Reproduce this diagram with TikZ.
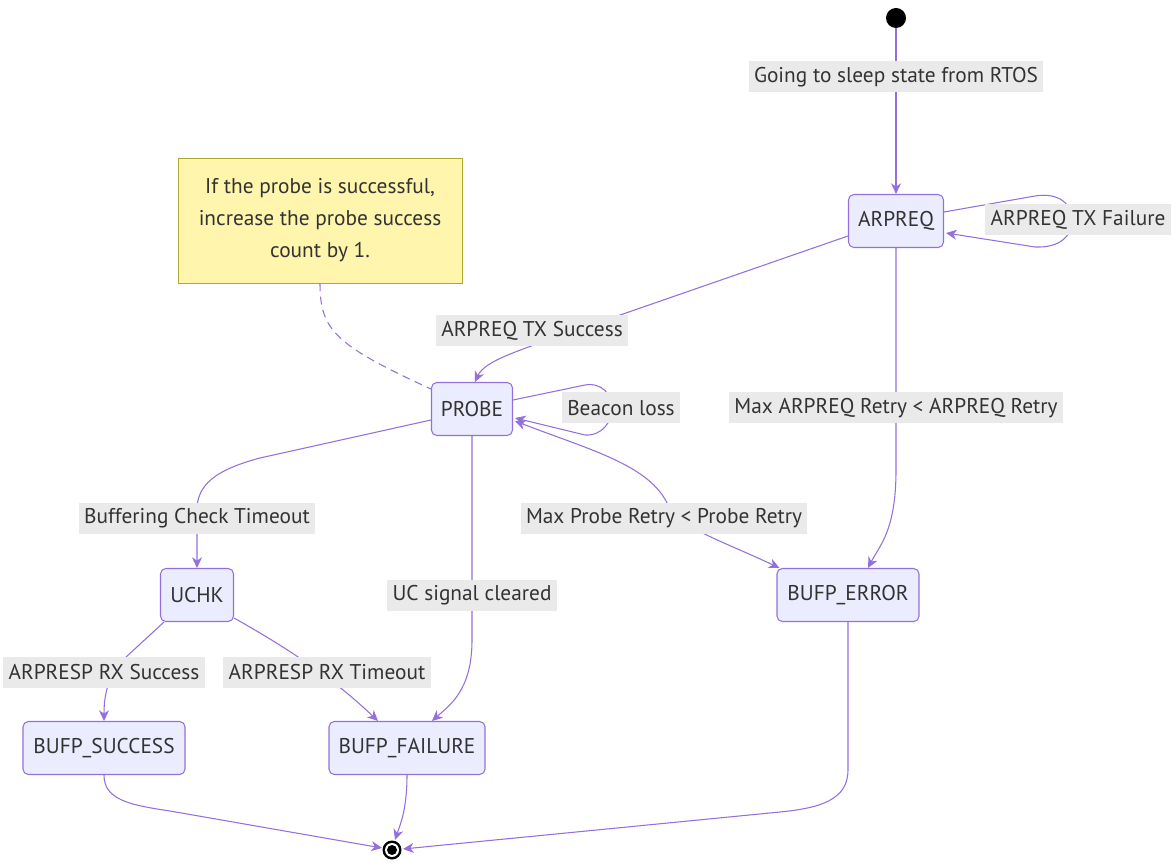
\documentclass[tikz,border=0pt]{standalone}
\usepackage{fontspec}
\setmainfont{PT Sans}
\usetikzlibrary{arrows.meta,calc}
\definecolor{edgec}{HTML}{9370DB}
\definecolor{nodefill}{HTML}{ECECFF}
\definecolor{txt}{HTML}{333333}
\definecolor{lblbg}{HTML}{EAEAEA}
\definecolor{notefill}{HTML}{FFF5AD}
\definecolor{notedraw}{HTML}{AAAA33}
\tikzset{
  state/.style={draw=edgec, fill=nodefill, rounded corners=4pt, line width=0.8pt,
    minimum height=53*0.75pt, inner xsep=0pt, text=txt, font=\fontsize{16}{19}\selectfont},
  lbl/.style={fill=lblbg, inner xsep=4pt, inner ysep=0pt, minimum height=31*0.75pt, text=txt, font=\fontsize{16}{19}\selectfont},
  arrowtip/.tip={Stealth[length=8pt,width=7.5pt,inset=2.5pt]},
  edge/.style={draw=edgec, line width=0.8pt, -arrowtip},
  notebox/.style={draw=notedraw, fill=notefill, line width=0.6pt, text=txt, align=center,
    font=\fontsize{16}{24}\selectfont, minimum width=284*0.75pt, minimum height=125*0.75pt},
}
\begin{document}
\begin{tikzpicture}[x=0.75pt,y=-0.75pt]
\useasboundingbox (0,0) rectangle (1174,862);
% nodes
\fill (896,18) circle (10);
\coordinate (start) at (896,28);
\node[state, minimum width=95*0.75pt] (arpreq) at (896,221) {ARPREQ};
\node[state, minimum width=81*0.75pt] (probe) at (472,409) {PROBE};
\node[state, minimum width=73*0.75pt] (uchk) at (197,595) {UCHK};
\node[state, minimum width=162*0.75pt] (bsucc) at (104,748) {BUFP\_SUCCESS};
\node[state, minimum width=156*0.75pt] (bfail) at (407,748) {BUFP\_FAILURE};
\node[state, minimum width=142*0.75pt] (berr) at (848,595) {BUFP\_ERROR};
\node[notebox] (note) at (320,220.5) {If the probe is successful,\\increase the probe success\\count by 1.};
\fill (392,850) circle (9.5);
\fill[white] (392,850) circle (7);
\fill (392,850) circle (5);
\coordinate (end) at (392,850);
% edges
\draw[edge] (start) -- (arpreq.north);
\draw[edge] ($(arpreq.east)+(0,-9)$) -- (1035,196) .. controls (1060,192) and (1072,205) .. (1072,220)
   .. controls (1072,236) and (1060,248) .. (1035,247) -- ($(arpreq.east)+(2,12)$);
\draw[edge] ($(arpreq.west)+(0,15)$) -- (600,322) .. controls (520,350) and (485,360) .. ($(probe.north)+(3,0)$);
\draw[edge] ($(probe.east)+(0,-9)$) -- (585,385) .. controls (602,382) and (612,395) .. (612,408)
   .. controls (612,422) and (602,436) .. (585,435) -- ($(probe.east)+(2,9)$);
\draw[edge, arrowtip-arrowtip]
   ($(probe.east)+(2,12)$) .. controls (590,450) and (650,465) .. (668,505)
   .. controls (680,528) and (720,540) .. ($(berr.north west)+(3,0)$);
\draw[edge] (arpreq.south) -- (896,470) .. controls (896,530) and (880,545) .. ($(berr.north)+(20,0)$);
\draw[edge] ($(probe.west)+(0,11)$) -- (260,458) .. controls (215,470) and (197,485) .. (197,510) -- (uchk.north);
\draw[edge] (probe.south) -- (472,640) .. controls (472,690) and (450,705) .. ($(bfail.north)+(25,0)$);
\draw[edge] ($(uchk.south west)+(4,0)$) -- (125,658) .. controls (110,675) and (104,690) .. (bsucc.north);
\draw[edge] ($(uchk.south east)+(0,-4)$) .. controls (300,655) and (340,685) .. ($(bfail.north)+(-29,0)$);
\draw[edge] (bsucc.south) .. controls (104,800) and (130,805) .. (170,811) -- ($(end)+(-10,-2)$);
\draw[edge] (bfail.south) .. controls (407,810) and (400,825) .. ($(end)+(3,-10)$);
\draw[edge] (berr.south) -- (848,770) .. controls (848,800) and (820,808) .. (780,812) -- ($(end)+(11,-1)$);
\draw[draw=edgec, line width=0.8pt, dash pattern=on 6pt off 4pt] (note.south) .. controls (320,330) and (335,345) .. ($(probe.west)+(0,-20)$);
% labels
\node[lbl] (l1) at (896,77) {Going to sleep state from RTOS};
\node[lbl] (l2) at (1078,220) {ARPREQ TX Failure};
\node[lbl] (l3) at (532,331) {ARPREQ TX Success};
\node[lbl] (l4) at (621,408) {Beacon loss};
\node[lbl] (l5) at (896,408) {Max ARPREQ Retry < ARPREQ Retry};
\node[lbl] (l6) at (197,518) {Buffering Check Timeout};
\node[lbl] (l7) at (664,518) {Max Probe Retry < Probe Retry};
\node[lbl] (l8) at (472,595) {UC signal cleared};
\node[lbl] (l9) at (104,672) {ARPRESP RX Success};
\node[lbl] (l10) at (327,672) {ARPRESP RX Timeout};
\end{tikzpicture}
\end{document}
